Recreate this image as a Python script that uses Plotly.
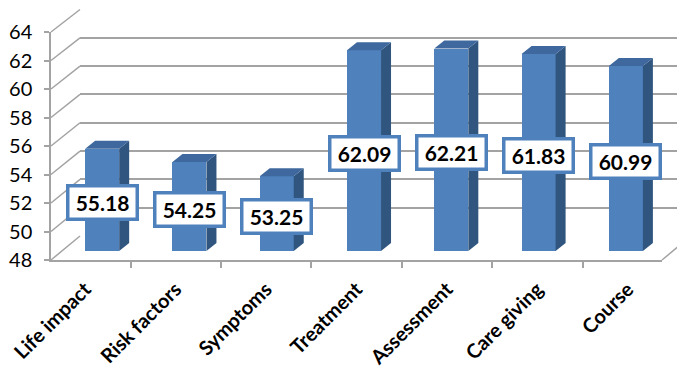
import plotly.graph_objects as go

# ---------------- data ----------------
categories = ["Life impact", "Risk factors", "Symptoms", "Treatment",
              "Assessment", "Care giving", "Course"]
values = [55.18, 54.25, 53.25, 62.09, 62.21, 61.83, 60.99]
y_ticks = [48, 50, 52, 54, 56, 58, 60, 62, 64]
y_min, y_max = 48, 64

# ---------------- geometry helpers (pixel -> paper) ----------------
W, H = 685, 378
def px(x):
    return x / W
def py(y):
    return 1 - y / H

GRID = "#A3A3A3"
FRONT = "#4F81BD"
SIDE = "#30557F"
TOP = "#3F699E"
FONT = "Lato"

# front (axis) plane, bar plane, back wall
front_x = (px(43), px(654)); front_y = (py(252), py(24))
bar_x = (px(54), px(665)); bar_y = (py(243), py(15))
back_x = (px(72), px(683)); back_y = (py(228), py(1.5))

idx = list(range(len(categories)))
bw = 0.39          # front face width (category units)
off = -0.235       # left edge offset from category centre
dx = 10 / ((bar_x[1] - bar_x[0]) * W / len(categories))   # depth in x units
dy = 8 / ((bar_y[1] - bar_y[0]) * H / (y_max - y_min))    # depth in y units

fig = go.Figure()

# back wall (gridlines only) on x/y
fig.add_trace(go.Scatter(x=[0], y=[None], xaxis="x", yaxis="y",
                         showlegend=False, hoverinfo="skip"))

# bars: front faces
fig.add_trace(go.Bar(x=idx, y=values, width=bw, offset=off,
                     marker=dict(color=FRONT, line=dict(width=0)),
                     xaxis="x2", yaxis="y2", showlegend=False,
                     hovertext=categories, hoverinfo="text+y"))

# side and top faces computed from the values
sx, sy, tx, ty = [], [], [], []
for i, v in zip(idx, values):
    x0 = i + off
    x1 = x0 + bw
    sx += [x1, x1 + dx, x1 + dx, x1, x1, None]
    sy += [y_min, y_min + dy, v + dy, v, y_min, None]
    tx += [x0, x0 + dx, x1 + dx, x1, x0, None]
    ty += [v, v + dy, v + dy, v, v, None]
fig.add_trace(go.Scatter(x=sx, y=sy, fill="toself", fillcolor=SIDE, mode="lines",
                         line=dict(width=0, color=SIDE), xaxis="x2", yaxis="y2",
                         showlegend=False, hoverinfo="skip"))
fig.add_trace(go.Scatter(x=tx, y=ty, fill="toself", fillcolor=TOP, mode="lines",
                         line=dict(width=0, color=TOP), xaxis="x2", yaxis="y2",
                         showlegend=False, hoverinfo="skip"))

# front axis plane (labels)
fig.add_trace(go.Scatter(x=categories, y=values, xaxis="x3", yaxis="y3",
                         mode="markers", marker=dict(opacity=0),
                         showlegend=False, hoverinfo="skip"))

# value labels in boxes
for i, v in zip(idx, values):
    fig.add_annotation(x=i + off + bw / 2, y=(y_min + v) / 2, xref="x2", yref="y2",
                       text=f"<b>{v:.2f}</b>", showarrow=False, yshift=-3,
                       font=dict(family=FONT, size=21, color="black"),
                       bgcolor="white", bordercolor="#4F81BD", borderwidth=3.5,
                       borderpad=2, width=62, height=26)

# left wall diagonals and right floor edge
def yf(v):
    return front_y[0] + (v - y_min) / (y_max - y_min) * (front_y[1] - front_y[0])
def yb(v):
    return back_y[0] + (v - y_min) / (y_max - y_min) * (back_y[1] - back_y[0])
shapes = []
for v in y_ticks:
    shapes.append(dict(type="line", xref="paper", yref="paper",
                       x0=front_x[0], y0=yf(v), x1=back_x[0], y1=yb(v),
                       line=dict(color=GRID, width=1.5), layer="below"))
shapes.append(dict(type="line", xref="paper", yref="paper",
                   x0=front_x[1], y0=yf(y_min), x1=back_x[1], y1=yb(y_min),
                   line=dict(color=GRID, width=1.5), layer="below"))

fig.update_layout(
    width=W, height=H,
    margin=dict(l=0, r=0, t=0, b=0, autoexpand=False),
    paper_bgcolor="white", plot_bgcolor="rgba(0,0,0,0)",
    shapes=shapes,
    bargap=0,
    xaxis=dict(domain=list(back_x), range=[0, 1], visible=False, fixedrange=True),
    yaxis=dict(domain=list(back_y), range=[y_min, y_max], tickvals=y_ticks,
               showgrid=True, gridcolor=GRID, gridwidth=1.5, zeroline=False,
               showticklabels=False, ticks="", showline=False, anchor="x"),
    xaxis2=dict(domain=list(bar_x), range=[-0.5, len(categories) - 0.5],
                visible=False, anchor="y2"),
    yaxis2=dict(domain=list(bar_y), range=[y_min, y_max], visible=False,
                anchor="x2"),
    xaxis3=dict(domain=list(front_x), anchor="y3", type="category",
                categoryorder="array", categoryarray=categories,
                tickson="boundaries", ticks="outside", ticklen=6,
                tickcolor=GRID, tickwidth=1.5,
                showline=True, linecolor=GRID, linewidth=1.5,
                showgrid=False, zeroline=False, tickangle=-45,
                tickfont=dict(family=FONT, size=20, color="black", weight="bold"),
                ticklabelstandoff=8),
    yaxis3=dict(domain=list(front_y), anchor="x3", range=[y_min, y_max],
                tickvals=y_ticks, ticktext=[str(t) for t in y_ticks],
                ticks="outside", ticklen=5, tickcolor=GRID, tickwidth=1.5,
                showline=True, linecolor=GRID, linewidth=1.5,
                showgrid=False, zeroline=False,
                tickfont=dict(family=FONT, size=20, color="black"),
                ticklabelstandoff=8),
)

fig.write_html("out.html")
